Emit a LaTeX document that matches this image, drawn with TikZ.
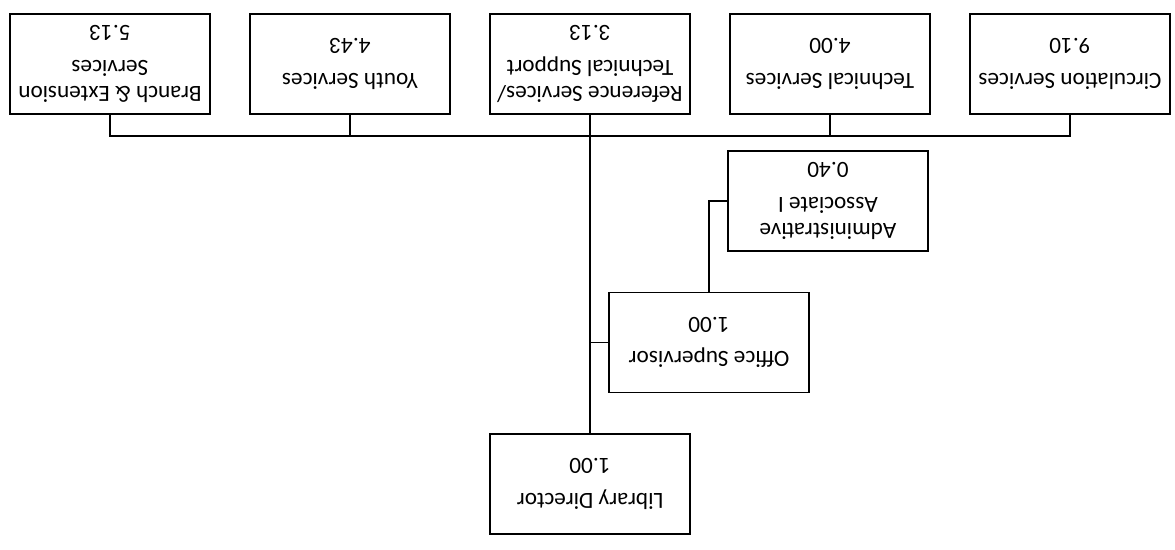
\documentclass[tikz,border=0pt]{standalone}
\usepackage{fontspec}
\setmainfont{Carlito}
\usetikzlibrary{positioning,calc}

\begin{document}
\begin{tikzpicture}[rotate=180,transform shape,node distance=6cm]
\tikzstyle{unit}=[draw=black,line width=1.1pt,minimum width=5cm,minimum height=2.5cm,align=center,font=\fontsize{16.5}{18.5}\selectfont]
\tikzstyle{link}=[-,line width=1.1pt]

\useasboundingbox (-14.625,-12.1) rectangle (14.75,1.65);

\node[unit] (director) at (0,0) {Library Director\\[6pt]1.00};
\node[unit] (office) [below=1cm of director, xshift=-2.975cm] {Office Supervisor\\[6pt]1.00};
\node[unit] (admin) [below=1cm of office, xshift=-2.975cm] {Administrative\\Associate I\\[6pt]0.40};

\node[unit] (ref) at (0,-10.5) {Reference Services/\\Technical Support\\[6pt]3.13};
\node[unit] (tech) [left of = ref] {Technical Services\\[6pt]4.00};
\node[unit] (circ) [left of = tech] {Circulation Services\\[6pt]9.10};
\node[unit] (youth) [right of = ref] {Youth Services\\[6pt]4.43};
\node[unit] (branch) [right of = youth] {Branch \& Extension\\Services\\[6pt]5.13};

\coordinate (bus) at ($(ref.north)+(0,0.525)$);

\draw[link] (circ.north) |- (bus) -| (branch.north);
\foreach \u in {tech,youth}
  \draw[link] (\u.north) -- (\u.north |- bus);
\draw[link] (director.south) -- (ref.north);
\draw[link] (office.east) -- (office.east -| director);
\draw[link] (office.south) |- (admin.east);
\end{tikzpicture}
\end{document}
